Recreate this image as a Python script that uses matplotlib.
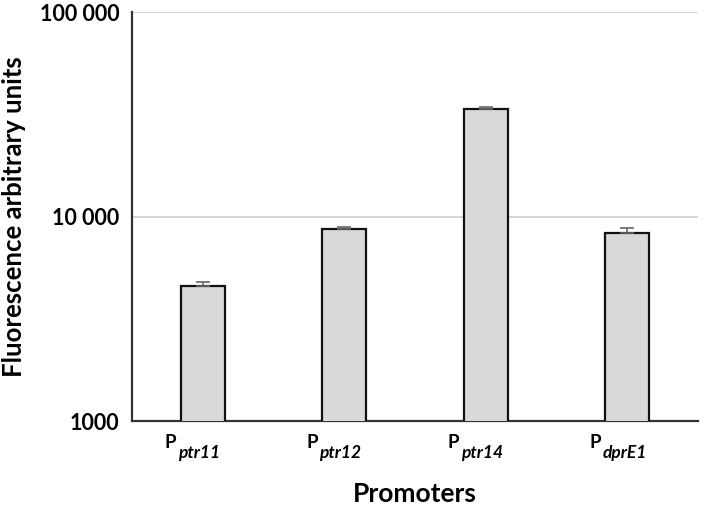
import numpy as np
import matplotlib.pyplot as plt

plt.rcParams['font.family'] = ['Lato', 'DejaVu Sans']

# promoter names and fluorescence
promoters = ['ptr11', 'ptr12', 'ptr14', 'dprE1']
fluor = [4560, 8650, 33650, 8330]
err = [210, 200, 500, 420]

yticks = [1000, 10000, 100000]
ytick_labels = ['1000', '10 000', '100 000']

fig = plt.figure(figsize=(7.09, 5.11), dpi=100)
ax = fig.add_axes([0.1862, 0.1761, 0.7983, 0.8004])

x = np.arange(len(promoters))
ax.bar(x, fluor, width=0.31, color='#d9d9d9', edgecolor='#111111', linewidth=1.6,
       zorder=3)
ax.errorbar(x, fluor, yerr=[np.zeros(len(err)), err], fmt='none', ecolor='#666666',
            elinewidth=1.2, capsize=5, capthick=1.2, zorder=4)

ax.set_yscale('log')
ax.set_ylim(1000, 100000)
ax.set_xlim(-0.5, 3.5)
ax.set_yticks(yticks)
ax.set_yticklabels(ytick_labels)
ax.yaxis.set_minor_locator(plt.NullLocator())
ax.set_xticks(x)
ax.set_xticklabels([])

# P with italic subscript, as two pieces of text under each bar
xt = ax.get_xaxis_transform()
for xi, p in zip(x, promoters):
    ax.annotate('P', xy=(xi, 0), xycoords=xt, xytext=(-27.5, -19.5),
                textcoords='offset points', ha='left', va='baseline',
                fontsize=13.5, fontweight='bold')
    ax.annotate(p, xy=(xi, 0), xycoords=xt, xytext=(-18, -26.5),
                textcoords='offset points', ha='left', va='baseline',
                fontsize=12.5, fontweight='bold', fontstyle='italic')

ax.grid(axis='y', color='#d0d0d0', linewidth=1.2, zorder=0)
for s in ['top', 'right']:
    ax.spines[s].set_visible(False)
for s in ['left', 'bottom']:
    ax.spines[s].set_color('#333333')
    ax.spines[s].set_linewidth(1.6)
ax.tick_params(axis='both', length=0)
ax.tick_params(axis='y', labelsize=15.5, pad=9)
for t in ax.get_yticklabels():
    t.set_fontweight('bold')

ax.set_ylabel('Fluorescence arbitrary units', fontsize=18.5, fontweight='bold')
ax.yaxis.set_label_coords(-0.188, 0.5)
ax.set_xlabel('Promoters', fontsize=19, fontweight='bold', va='baseline')
ax.xaxis.set_label_coords(0.5, -0.198)

fig.savefig('out.png', dpi=100)
